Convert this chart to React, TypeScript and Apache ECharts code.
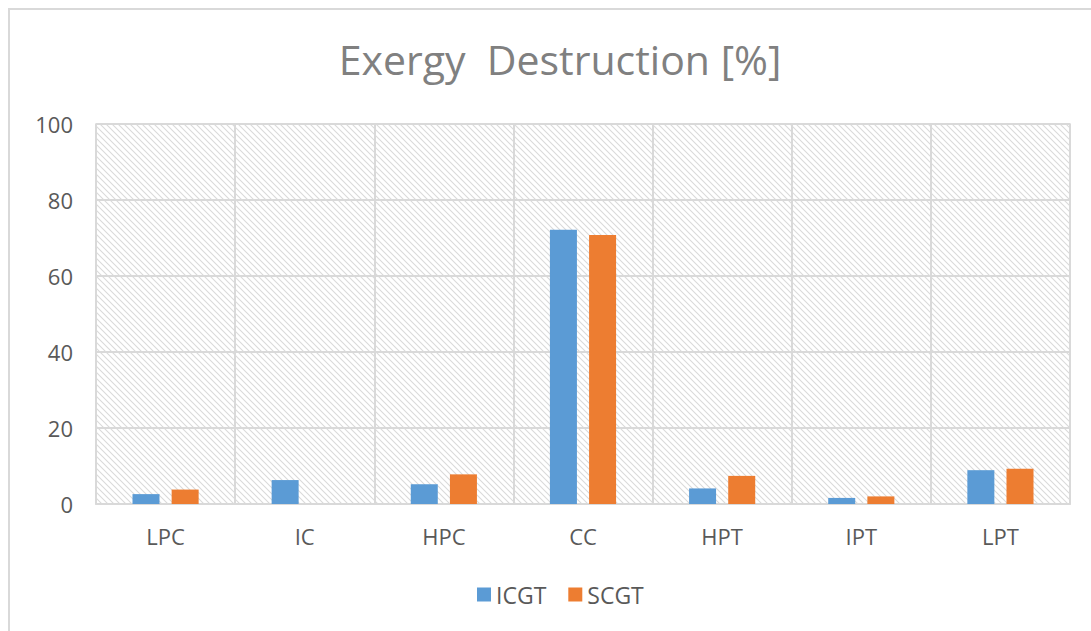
import React, { useEffect, useRef } from "react";
import * as echarts from "echarts";

const categories = ["LPC", "IC", "HPC", "CC", "HPT", "IPT", "LPT"];
const icgt = [2.6, 6.3, 5.2, 72.2, 4.1, 1.6, 8.9];
const scgt = [3.8, 0, 7.8, 70.8, 7.4, 2.0, 9.3];
const yTicks = [0, 20, 40, 60, 80, 100];

function makeHatch(): string {
  const c = document.createElement("canvas");
  const s = 6;
  c.width = s;
  c.height = s;
  const ctx = c.getContext("2d")!;
  ctx.fillStyle = "#ffffff";
  ctx.fillRect(0, 0, s, s);
  ctx.strokeStyle = "#dadada";
  ctx.lineWidth = 1.1;
  ctx.beginPath();
  ctx.moveTo(-1, -1);
  ctx.lineTo(s + 1, s + 1);
  ctx.moveTo(-1, s - 1);
  ctx.lineTo(1, s + 1);
  ctx.moveTo(s - 1, -1);
  ctx.lineTo(s + 1, 1);
  ctx.stroke();
  return c.toDataURL();
}

export default function App() {
  const ref = useRef<HTMLDivElement>(null);
  useEffect(() => {
    if (!ref.current) return;
    const chart = echarts.init(ref.current, undefined, { renderer: "svg" });
    const hatch = makeHatch();
    const font = "'Open Sans', sans-serif";
    chart.setOption({
      animation: false,
      backgroundColor: "#ffffff",
      title: {
        text: "Exergy  Destruction [%]",
        left: 555,
        textAlign: "center",
        top: 33,
        textStyle: { fontFamily: font, fontSize: 41, fontWeight: "normal", color: "#808080" },
      },
      graphic: [
        {
          type: "rect",
          shape: { x: 9, y: 9, width: 1100, height: 640 },
          style: { fill: "none", stroke: "#d9d9d9", lineWidth: 2 },
          silent: true,
        },
      ],
      grid: {
        left: 96,
        right: 21,
        top: 124,
        bottom: 127,
        show: true,
        backgroundColor: { image: hatch, repeat: "repeat" } as any,
        borderColor: "#d9d9d9",
        borderWidth: 1.5,
      },
      legend: {
        data: ["ICGT", "SCGT"],
        top: 578,
        left: 472,
        itemWidth: 14,
        itemHeight: 14,
        itemGap: 22,
        icon: "rect",
        textStyle: { fontFamily: font, fontSize: 23, color: "#595959" },
      },
      xAxis: {
        type: "category",
        data: categories,
        axisTick: { show: false },
        axisLine: { lineStyle: { color: "#d9d9d9", width: 2 } },
        splitLine: { show: true, lineStyle: { color: "#d9d9d9", width: 2 } },
        axisLabel: { fontFamily: font, fontSize: 22, color: "#595959", margin: 21 },
      },
      yAxis: {
        type: "value",
        min: yTicks[0],
        max: yTicks[yTicks.length - 1],
        interval: 20,
        axisLine: { show: false },
        axisTick: { show: false },
        splitLine: { lineStyle: { color: "#d9d9d9", width: 2 } },
        axisLabel: { fontFamily: font, fontSize: 22, color: "#595959", margin: 23 },
      },
      series: [
        {
          name: "ICGT",
          type: "bar",
          data: icgt,
          barWidth: 27,
          barGap: "45%",
          itemStyle: { color: "#5B9BD5" },
        },
        {
          name: "SCGT",
          type: "bar",
          data: scgt,
          barWidth: 27,
          itemStyle: { color: "#ED7D31" },
        },
      ],
    });
    return () => chart.dispose();
  }, []);
  return (
    <div
      ref={ref}
      style={{ position: "absolute", left: 0, top: 0, width: 1091, height: 631 }}
    />
  );
}
